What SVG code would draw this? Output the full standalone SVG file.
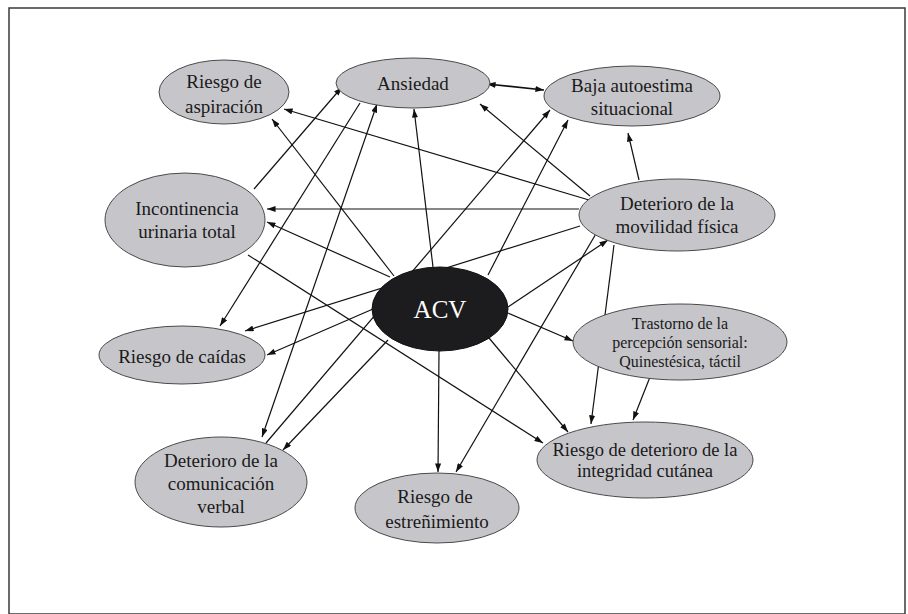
<svg xmlns="http://www.w3.org/2000/svg" width="908" height="614" viewBox="0 0 908 614">
<style>
.n ellipse{fill:#c6c6ca;stroke:#4a4a4a;stroke-width:1}
.n text{font-size:19px;fill:#1a1a1a;text-anchor:middle}
.n text.s{font-size:16px}
#c line{stroke:#111;stroke-width:1.2;marker-end:url(#ah)}
#c line.both{marker-start:url(#ahs)}
</style>
<defs>
<marker id="ah" viewBox="0 0 10 7" refX="10" refY="3.5" markerWidth="9" markerHeight="6" markerUnits="userSpaceOnUse" orient="auto"><path d="M0,0 L10,3.5 L0,7 z" fill="#111"/></marker>
<marker id="ahs" viewBox="0 0 10 7" refX="10" refY="3.5" markerWidth="9" markerHeight="6" markerUnits="userSpaceOnUse" orient="auto-start-reverse"><path d="M0,0 L10,3.5 L0,7 z" fill="#111"/></marker>
</defs>
<rect x="0" y="0" width="908" height="614" fill="#fff"/>
<rect x="9" y="8" width="896" height="606" fill="none" stroke="#3a3a3a" stroke-width="1.5"/>
<g id="c">
<line class="both" x1="487" y1="84" x2="544" y2="90" style="stroke-width:1.7"/>
<line x1="254" y1="189" x2="342" y2="87"/>
<line x1="360" y1="103" x2="220" y2="326"/>
<line class="both" x1="377" y1="104" x2="262" y2="437"/>
<line x1="394" y1="276" x2="272" y2="119"/>
<line x1="433" y1="267" x2="414" y2="109"/>
<line x1="590" y1="196" x2="480" y2="104"/>
<line x1="639" y1="180" x2="628" y2="133"/>
<line x1="589" y1="200" x2="284" y2="109"/>
<line x1="579" y1="209" x2="267" y2="209"/>
<line x1="390" y1="277" x2="267" y2="222"/>
<line x1="248" y1="255" x2="543" y2="443"/>
<line x1="580" y1="226" x2="245" y2="331"/>
<line x1="373" y1="309" x2="267" y2="355"/>
<line x1="508" y1="307" x2="608" y2="240"/>
<line x1="508" y1="313" x2="573" y2="341"/>
<line x1="439" y1="351" x2="438" y2="472"/>
<line x1="489" y1="338" x2="568" y2="432"/>
<line x1="597" y1="232" x2="456" y2="472"/>
<line x1="614" y1="245" x2="591" y2="424"/>
<line x1="650" y1="377" x2="633" y2="420"/>
<line x1="488" y1="275" x2="568" y2="120"/>
<line x1="266" y1="443" x2="550" y2="110"/>
<line x1="388" y1="340" x2="283" y2="450"/>
</g>
<g font-family="'Liberation Serif', 'Times New Roman', 'DejaVu Serif', serif">
<g id="aspiracion" class="n"><ellipse cx="224" cy="92" rx="65" ry="32"/><text x="224" y="88">Riesgo de</text><text x="224" y="113">aspiración</text></g>
<g id="ansiedad" class="n"><ellipse cx="413" cy="83" rx="77" ry="25"/><text x="413" y="90">Ansiedad</text></g>
<g id="baja" class="n"><ellipse cx="632" cy="96" rx="88" ry="30"/><text x="632" y="92">Baja autoestima</text><text x="632" y="115">situacional</text></g>
<g id="incontinencia" class="n"><ellipse cx="185" cy="220" rx="80" ry="47"/><text x="187" y="215">Incontinencia</text><text x="187" y="238">urinaria total</text></g>
<g id="movilidad" class="n"><ellipse cx="677" cy="215" rx="98" ry="36"/><text x="677" y="210">Deterioro de la</text><text x="677" y="233">movilidad física</text></g>
<g id="caidas" class="n"><ellipse cx="182" cy="355" rx="83" ry="29"/><text x="182" y="363">Riesgo de caídas</text></g>
<g id="trastorno" class="n"><ellipse cx="680" cy="342" rx="107" ry="38"/><text class="s" x="680" y="329">Trastorno de la</text><text class="s" x="680" y="348">percepción sensorial:</text><text class="s" x="680" y="367">Quinestésica, táctil</text></g>
<g id="integridad" class="n"><ellipse cx="645" cy="460" rx="108" ry="38"/><text x="645" y="456" style="font-size:18.5px">Riesgo de deterioro de la</text><text x="645" y="477" style="font-size:18.5px">integridad cutánea</text></g>
<g id="estrenimiento" class="n"><ellipse cx="437" cy="508" rx="82" ry="35"/><text x="435" y="503">Riesgo de</text><text x="437" y="528">estreñimiento</text></g>
<g id="comunicacion" class="n"><ellipse cx="221" cy="482" rx="86" ry="45"/><text x="221" y="467">Deterioro de la</text><text x="221" y="490">comunicación</text><text x="221" y="513">verbal</text></g>
<g id="acv" class="n"><ellipse cx="440" cy="309" rx="68" ry="42" style="fill:#1c1c1e;stroke:#111"/><text x="440" y="318" style="font-size:25px;fill:#fff">ACV</text></g>
</g>
</svg>
